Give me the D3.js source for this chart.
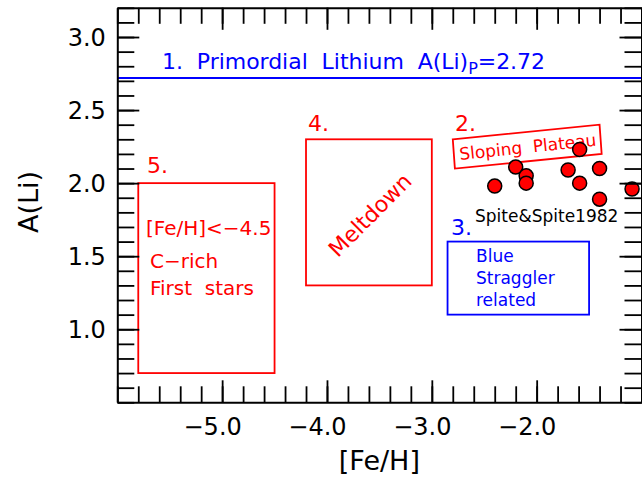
<!DOCTYPE html>
<html><head><meta charset="utf-8">
<script src="https://cdn.jsdelivr.net/npm/d3@7"></script>
<style>
body{margin:0;background:#fff}
svg{display:block}
text{font-family:"DejaVu Sans",sans-serif}
</style>
</head><body>
<svg id="c" width="642" height="479"></svg>
<script>
// ---- data ----
const feh = [-2.40, -2.20, -2.10, -2.10, -1.70, -1.59, -1.59, -1.40, -1.40, -1.09];
const ali = [ 1.98,  2.11,  2.05,  2.00,  2.09,  2.23,  2.00,  2.10,  1.89,  1.96];
const xTicks = [-5, -4, -3, -2];
const xTickLabels = ["−5.0", "−4.0", "−3.0", "−2.0"];
const yTicks = [1.0, 1.5, 2.0, 2.5, 3.0];
const yTickLabels = ["1.0", "1.5", "2.0", "2.5", "3.0"];
const primordialLi = 2.72;
const box5 = [-5.8, -4.5, 0.7, 2.0];     // x0,x1,y0,y1
const box4 = [-4.2, -3.0, 1.3, 2.3];
const box3 = [-2.85, -1.5, 1.1, 1.6];
const box2 = [[-2.80, 2.30], [-1.40, 2.40], [-1.38, 2.20], [-2.78, 2.10]];

// ---- layout ----
const svg = d3.select("#c");
const x = d3.scaleLinear().domain([-6, -1]).range([117.3, 641.5]);
const y = d3.scaleLinear().domain([0.5, 3.2]).range([402.3, 7.8]);
const RED = "#ff0000", BLUE = "#0000ff";

// primordial line
svg.append("line").attr("x1", x(-6)).attr("x2", x(-1))
  .attr("y1", y(primordialLi)).attr("y2", y(primordialLi))
  .attr("stroke", BLUE).attr("stroke-width", 2);
const t1 = svg.append("text").attr("x", 162).attr("y", 68.5)
  .attr("fill", BLUE).attr("font-size", 22).attr("xml:space", "preserve")
  .attr("textLength", 383).attr("lengthAdjust", "spacing");
t1.append("tspan").text("1.  Primordial  Lithium  A(Li)");
t1.append("tspan").attr("font-size", 16).attr("dy", 5).text("P");
t1.append("tspan").attr("dy", -5).text("=2.72");

// rectangles
function rect(b, col) {
  svg.append("rect").attr("x", x(b[0])).attr("y", y(b[3]))
    .attr("width", x(b[1]) - x(b[0])).attr("height", y(b[2]) - y(b[3]))
    .attr("fill", "none").attr("stroke", col).attr("stroke-width", 1.8);
}
rect(box5, RED); rect(box4, RED); rect(box3, BLUE);
svg.append("polygon").attr("points", box2.map(p => [x(p[0]), y(p[1])].join(",")).join(" "))
  .attr("fill", "none").attr("stroke", RED).attr("stroke-width", 1.8);

function label(txt, px, py, size, col, extra) {
  const t = svg.append("text").attr("x", px).attr("y", py)
    .attr("font-size", size).attr("fill", col).attr("xml:space", "preserve").text(txt);
  if (extra) extra(t);
  return t;
}
label("5.", 147, 173, 22, RED);
label("4.", 308, 131, 22, RED);
label("2.", 455, 131, 22, RED);
label("3.", 451, 235, 22, BLUE);

label("[Fe/H]<−4.5", 146, 235, 20, RED);
label("C−rich", 150, 268, 20, RED);
label("First  stars", 150, 295, 20, RED);

label("Meltdown", 370, 215, 22, RED, t => t.attr("text-anchor", "middle").attr("dy", "0.35em")
  .attr("transform", "rotate(-45,370,215)"));
label("Sloping  Plateau", 460, 160, 17, RED, t => t.attr("transform", "rotate(-6,460,160)"));

label("Blue", 476, 262, 17, BLUE);
label("Straggler", 476, 284, 17, BLUE);
label("related", 476, 306, 17, BLUE);

label("Spite&Spite1982", 475, 222, 17, "#000");

// points
svg.append("g").selectAll("circle").data(feh.map((f, i) => [f, ali[i]])).join("circle")
  .attr("cx", d => x(d[0])).attr("cy", d => y(d[1])).attr("r", 7)
  .attr("fill", RED).attr("stroke", "#000").attr("stroke-width", 1.5);

// axes
const axStyle = g => {
  g.selectAll("path,line").attr("stroke", "#000");
  g.select(".domain").attr("stroke-width", 2);
  g.selectAll(".tick line").attr("stroke-width", 1.8);
};
const xMinor = x.ticks(25), yMinor = y.ticks(27);
// bottom
svg.append("g").attr("transform", `translate(0,${y(0.5)})`)
  .call(d3.axisBottom(x).tickValues(xMinor).tickSize(-16).tickSizeOuter(0).tickFormat(""))
  .call(axStyle);
const gb = svg.append("g").attr("transform", `translate(0,${y(0.5)})`)
  .call(d3.axisBottom(x).tickValues(xTicks).tickSize(-22).tickSizeOuter(0)
    .tickFormat((d, i) => xTickLabels[i]))
  .call(axStyle);
gb.select(".domain").remove();
gb.selectAll("text").attr("font-size", 24).attr("fill", "#000").attr("font-family", "DejaVu Sans")
  .attr("y", 33).attr("dy", 0).attr("dx", -10);
// top
svg.append("g").attr("transform", `translate(0,${y(3.2)})`)
  .call(d3.axisTop(x).tickValues(xMinor).tickSize(-16).tickSizeOuter(0).tickFormat(""))
  .call(axStyle);
svg.append("g").attr("transform", `translate(0,${y(3.2)})`)
  .call(d3.axisTop(x).tickValues(xTicks).tickSize(-22).tickSizeOuter(0).tickFormat(""))
  .call(axStyle).select(".domain").remove();
// left
svg.append("g").attr("transform", `translate(${x(-6)},0)`)
  .call(d3.axisLeft(y).tickValues(yMinor).tickSize(-17).tickSizeOuter(0).tickFormat(""))
  .call(axStyle);
const gl = svg.append("g").attr("transform", `translate(${x(-6)},0)`)
  .call(d3.axisLeft(y).tickValues(yTicks).tickSize(-22).tickSizeOuter(0)
    .tickFormat((d, i) => yTickLabels[i]))
  .call(axStyle);
gl.select(".domain").remove();
gl.selectAll("text").attr("font-size", 24).attr("fill", "#000").attr("font-family", "DejaVu Sans")
  .attr("x", -11.5).attr("dy", "0.36em");
// right
svg.append("g").attr("transform", `translate(${x(-1)},0)`)
  .call(d3.axisRight(y).tickValues(yMinor).tickSize(-17).tickSizeOuter(0).tickFormat(""))
  .call(axStyle);
svg.append("g").attr("transform", `translate(${x(-1)},0)`)
  .call(d3.axisRight(y).tickValues(yTicks).tickSize(-22).tickSizeOuter(0).tickFormat(""))
  .call(axStyle).select(".domain").remove();

// axis titles
svg.append("text").attr("x", (x(-6) + x(-1)) / 2).attr("y", 470).attr("text-anchor", "middle")
  .attr("font-size", 27).text("[Fe/H]");
svg.append("text").attr("transform", "translate(38,202) rotate(-90)").attr("text-anchor", "middle")
  .attr("font-size", 27).text("A(Li)");
</script>
</body></html>
